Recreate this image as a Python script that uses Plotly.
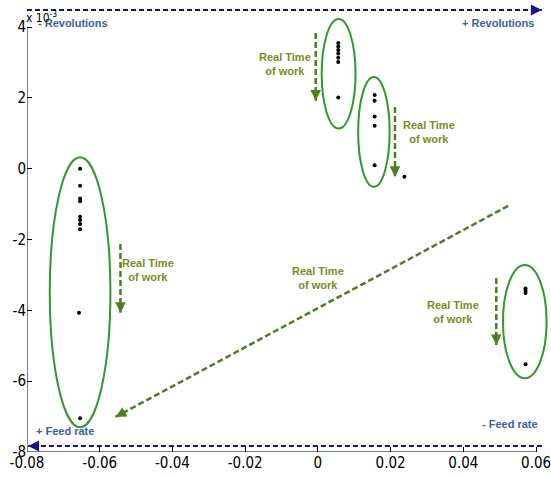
import plotly.graph_objects as go

# --- measured points (x: feed offset, y: revolution offset, units 1e-3 on y) ---
group_a_x = [-0.0654, -0.0654, -0.0654, -0.0654, -0.0654, -0.0654, -0.0654, -0.0654, -0.0657, -0.0654]
group_a_y = [0.0, -0.48, -0.84, -0.92, -1.36, -1.45, -1.56, -1.71, -4.07, -7.05]

group_b_x = [0.0056, 0.0056, 0.0056, 0.0056, 0.0056, 0.0056, 0.0056]
group_b_y = [3.55, 3.45, 3.35, 3.25, 3.13, 3.01, 2.01]

group_c_x = [0.0156, 0.0156, 0.0156, 0.0156, 0.0156]
group_c_y = [2.08, 1.92, 1.47, 1.21, 0.10]

outlier_x = [0.0238]
outlier_y = [-0.23]

group_d_x = [0.0571, 0.0571, 0.0571, 0.0571]
group_d_y = [-3.38, -3.45, -3.51, -5.52]

x_ticks = [-0.08, -0.06, -0.04, -0.02, 0.0, 0.02, 0.04, 0.06]
x_tick_labels = ["-0.08", "-0.06", "-0.04", "-0.02", "0", "0.02", "0.04", "0.06"]
y_ticks = [-8, -6, -4, -2, 0, 2, 4]
y_tick_labels = ["-8", "-6", "-4", "-2", "0", "2", "4"]

all_x = group_a_x + group_b_x + group_c_x + outlier_x + group_d_x
all_y = group_a_y + group_b_y + group_c_y + outlier_y + group_d_y

NAVY = "#14148c"
BLUE_TXT = "#3b5fa3"
OLIVE_TXT = "#7c8c1e"
ARROW_GREEN = "#4d7f22"
RING_GREEN = "#2f9a2a"
TICK_FONT = dict(family="Liberation Sans Narrow, Arial Narrow, DejaVu Sans Condensed, sans-serif",
                 size=15, color="black")
LABEL_FONT = dict(family="Liberation Sans, Arial, sans-serif", size=11, weight="bold")

fig = go.Figure()
fig.add_trace(go.Scatter(x=all_x, y=all_y, mode="markers",
                         marker=dict(size=4, color="black"),
                         showlegend=False, hoverinfo="skip"))

shapes = []
# cluster rings: (center x, center y, half width, half height)
rings = [(-0.0654, -3.49, 0.00834, 3.81),
         (0.0057, 2.68, 0.00465, 1.545),
         (0.0154, 1.04, 0.00433, 1.55),
         (0.0569, -4.32, 0.0060, 1.60)]
for cx, cy, rx, ry in rings:
    shapes.append(dict(type="circle", xref="x", yref="y",
                       x0=cx - rx, x1=cx + rx, y0=cy - ry, y1=cy + ry,
                       line=dict(color=RING_GREEN, width=2)))

# axis lines (left and bottom only, ending at the outer ticks)
shapes.append(dict(type="line", xref="x", yref="y", x0=-0.08, x1=0.06, y0=-8, y1=-8,
                   line=dict(color="black", width=1)))
shapes.append(dict(type="line", xref="x", yref="y", x0=-0.08, x1=-0.08, y0=-8, y1=4,
                   line=dict(color="black", width=1)))

annotations = []


def dashed_arrow(x0, y0, x1, y1, color, ax, ay, width=2, head=1.1, dash="5px,3px"):
    shapes.append(dict(type="line", xref="x", yref="y", x0=x0, y0=y0, x1=x1, y1=y1,
                       line=dict(color=color, width=width, dash=dash)))
    annotations.append(dict(x=x1, y=y1, xref="x", yref="y", ax=ax, ay=ay, text="",
                            showarrow=True, arrowhead=2, arrowsize=head,
                            arrowwidth=width, arrowcolor=color))


# direction arrows along the edges
dashed_arrow(-0.08, 4.48, 0.0616, 4.48, NAVY, -9, 0)
dashed_arrow(0.0616, -7.83, -0.0797, -7.83, NAVY, 9, 0)

# "real time of work" arrows
green = dict(width=2.5, head=0.85, dash="6px,3px")
dashed_arrow(-0.0006, 3.83, -0.0006, 1.92, ARROW_GREEN, 0, -8, **green)
dashed_arrow(0.0212, 1.74, 0.0212, -0.235, ARROW_GREEN, 0, -8, **green)
dashed_arrow(-0.0543, -2.13, -0.0543, -4.07, ARROW_GREEN, 0, -8, **green)
dashed_arrow(0.04906, -3.09, 0.04906, -4.98, ARROW_GREEN, 0, -8, **green)
dashed_arrow(0.05235, -1.05, -0.05566, -7.01, ARROW_GREEN, 7.1, -3.8, **green)

for tx, ty in [(-0.00918, 2.96), (0.03047, 1.04), (-0.04664, -2.86),
               (0.00012, -3.09), (0.03703, -4.05)]:
    annotations.append(dict(x=tx, y=ty, xref="x", yref="y", showarrow=False,
                            text="Real Time<br>of work", align="center",
                            font=dict(LABEL_FONT, color=OLIVE_TXT)))

for txt, tx, ty, anchor in [("- Revolutions", -0.0776, 4.10, "left"),
                            ("+ Revolutions", 0.0601, 4.12, "right"),
                            ("+ Feed rate", -0.0780, -7.41, "left"),
                            ("- Feed rate", 0.0610, -7.21, "right")]:
    annotations.append(dict(x=tx, y=ty, xref="x", yref="y", showarrow=False,
                            text=txt, xanchor=anchor,
                            font=dict(LABEL_FONT, color=BLUE_TXT)))

# exponent of the y axis
annotations.append(dict(x=-0.006, y=0.963, xref="paper", yref="paper", showarrow=False,
                        text="x 10<sup>-3</sup>", xanchor="left", yanchor="middle",
                        font=dict(TICK_FONT, size=12)))

fig.update_layout(
    width=551, height=478,
    margin=dict(l=27, r=0, t=0, b=26),
    paper_bgcolor="white", plot_bgcolor="white",
    shapes=shapes, annotations=annotations,
    xaxis=dict(range=[-0.08, 0.063281], tickvals=x_ticks, ticktext=x_tick_labels,
               ticks="inside", ticklen=5, tickcolor="black", tickwidth=1,
               showline=False, showgrid=False, zeroline=False,
               ticklabeloverflow="allow", tickfont=TICK_FONT),
    yaxis=dict(range=[-8, 4.7624], tickvals=y_ticks, ticktext=y_tick_labels,
               ticks="inside", ticklen=5, tickcolor="black", tickwidth=1,
               showline=False, showgrid=False, zeroline=False,
               tickfont=TICK_FONT),
)

fig.write_html("out.html")
